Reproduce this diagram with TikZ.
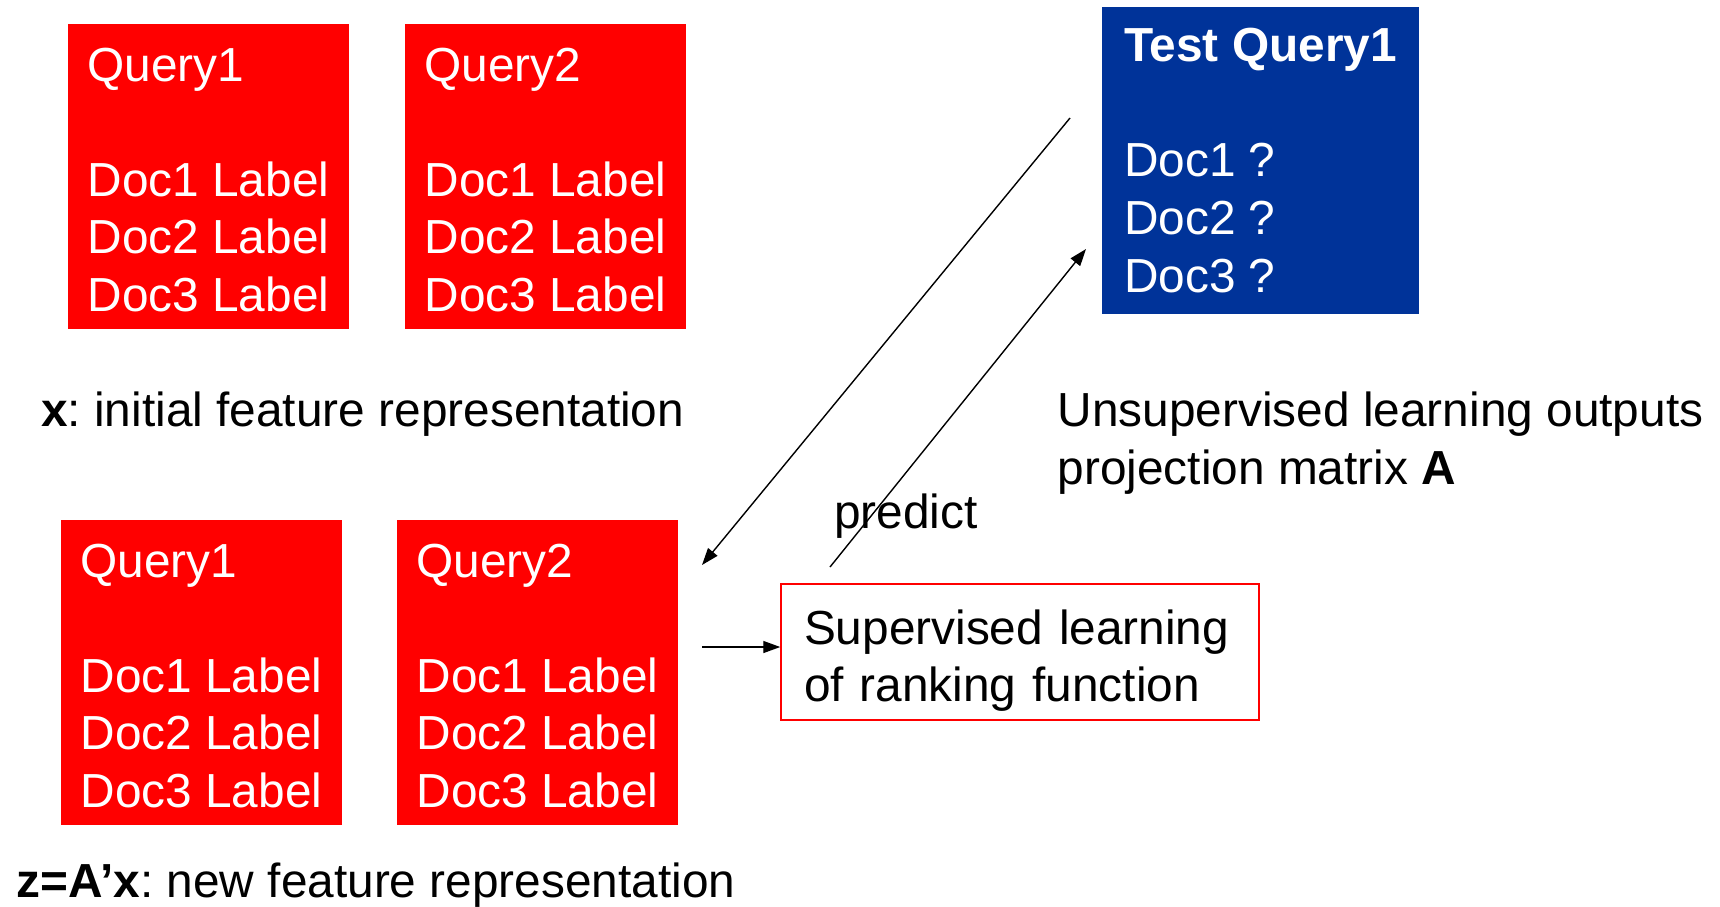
\documentclass[tikz,border=0pt]{standalone}
\usepackage{fontspec}
\setmainfont{Liberation Sans}
\frenchspacing
\usetikzlibrary{arrows.meta}
\definecolor{qred}{RGB}{255,0,0}
\definecolor{qblue}{RGB}{0,51,153}
\begin{document}
\begin{tikzpicture}[x=1pt, y=-1pt, font=\fontsize{47.8}{57.6}\selectfont,
  qbox/.style={fill=qred, text=white, align=left, inner sep=0pt,
    minimum width=281pt, minimum height=305pt},
  lbl/.style={anchor=base west, inner sep=0pt},
  arr/.style={line width=1.4pt, -{Triangle[length=17pt, width=12pt]}}]
  \useasboundingbox (0,0) rectangle (1720,906);
  % training queries, original features
  \node[qbox] (q1) at (208.5,176.5) {\rule{0pt}{40pt}Query1\\ \\ Doc1 Label\\ Doc2 Label\\ Doc3 Label};
  \node[qbox] (q2) at (545.5,176.5) {\rule{0pt}{40pt}Query2\\ \\ Doc1 Label\\ Doc2 Label\\ Doc3 Label};
  \node[lbl] (xlab) at (41,426) {\textbf{x}: initial feature representation};
%
  % training queries, projected features
  \node[qbox] (z1) at (201.5,672.5) {\rule{0pt}{40pt}Query1\\ \\ Doc1 Label\\ Doc2 Label\\ Doc3 Label};
  \node[qbox] (z2) at (537.5,672.5) {\rule{0pt}{40pt}Query2\\ \\ Doc1 Label\\ Doc2 Label\\ Doc3 Label};
  \node[lbl] (zlab) at (16.5,897) {\textbf{z=A’x}: new feature representation};
%
  % test query
  \node[fill=qblue, text=white, align=left, inner sep=0pt,
    minimum width=317pt, minimum height=307pt] (test) at (1260.5,160.5)
    {\textbf{Test Query1}\\ \\ Doc1 ?\\ Doc2 ?\\ Doc3 ?};
  \node[lbl, align=left] (ulab) at (1057.5,484)
    {Unsupervised learning outputs\\ projection matrix \textbf{A}};
%
  % ranker
  \node[draw=qred, line width=1.5pt, align=left, inner xsep=23pt, inner ysep=0pt,
    text width=432pt, minimum height=136pt] (rank) at (1020,652)
    {\rule{0pt}{52pt}Supervised learning\\ of ranking function};
  \node[lbl] (pred) at (834,528) {predict};
%
  \coordinate (c1) at (1070,118);
  \coordinate (c2) at (702,565);
  \coordinate (c3) at (830,567);
  \coordinate (c4) at (1086,249);
  \coordinate (c5) at (702,647);
  \draw[arr] (c1) -- (c2);
  \draw[arr] (c3) -- (c4);
  \draw[arr] (c5) -- (c5 -| rank.west);
\end{tikzpicture}
\end{document}
